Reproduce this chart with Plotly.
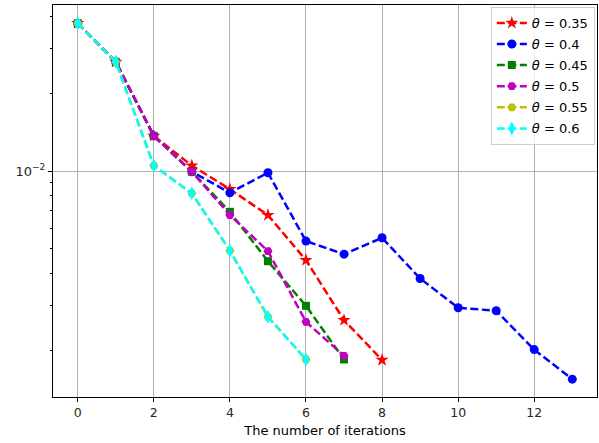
import plotly.graph_objects as go

iters_035 = list(range(9))
vals_035 = [0.0376, 0.0266, 0.0137, 0.0105, 0.0085, 0.00674, 0.00450, 0.00263, 0.00184]
iters_040 = list(range(14))
vals_040 = [0.0376, 0.0266, 0.0137, 0.00994, 0.00823, 0.00985, 0.00534, 0.00475, 0.00550,
            0.00382, 0.00294, 0.00286, 0.00202, 0.00155]
iters_045 = list(range(8))
vals_045 = [0.0376, 0.0266, 0.0137, 0.00994, 0.00694, 0.00446, 0.00299, 0.00185]
iters_050 = list(range(8))
vals_050 = [0.0376, 0.0266, 0.0137, 0.00994, 0.00674, 0.00488, 0.00259, 0.00191]
iters_055 = list(range(7))
vals_055 = [0.0376, 0.0266, 0.0105, 0.00819, 0.00490, 0.00271, 0.00185]
iters_060 = list(range(7))
vals_060 = [0.0376, 0.0266, 0.0105, 0.00819, 0.00490, 0.00271, 0.00185]

labels = ["0.35", "0.4", "0.45", "0.5", "0.55", "0.6"]
colors = ["#ff0000", "#0000ff", "#008000", "#bf00bf", "#bfbf00", "#00ffff"]
symbols = ["star", "circle", "square", "hexagon2", "hexagon2", "diamond-tall"]
sizes = [10, 9, 8, 9, 9, 10]

series = [(iters_035, vals_035), (iters_040, vals_040), (iters_045, vals_045),
          (iters_050, vals_050), (iters_055, vals_055), (iters_060, vals_060)]

fig = go.Figure()
for i, ((xs, ys), lab, c, s, sz) in enumerate(zip(series, labels, colors, symbols, sizes)):
    fig.add_trace(go.Scatter(
        x=xs, y=ys, mode="lines+markers",
        name="<i>θ</i> = " + lab,
        legendgroup="g%d" % i,
        line=dict(color=c, width=2.5, dash="8px,3.5px"),
        marker=dict(color=c, symbol=s, size=sz, line=dict(width=0)),
    ))

fig.update_layout(
    width=599, height=443,
    paper_bgcolor="white", plot_bgcolor="white",
    margin=dict(l=53, r=2, t=5, b=46),
    font=dict(family="DejaVu Sans", size=12, color="#262626"),
    showlegend=True,
    legend=dict(
        x=0.996, y=0.995, xanchor="right", yanchor="top",
        bgcolor="rgba(255,255,255,0.8)", bordercolor="#cccccc", borderwidth=1,
        font=dict(size=13, color="#000000"),
        tracegroupgap=1.2,
        itemwidth=30,
    ),
)
fig.update_xaxes(
    range=[-0.65, 13.65],
    tickvals=[0, 2, 4, 6, 8, 10, 12],
    showgrid=True, gridcolor="#b0b0b0", gridwidth=1,
    showline=True, linecolor="black", linewidth=1, mirror=True,
    ticks="outside", ticklen=4, tickcolor="black",
    zeroline=False,
    title=dict(text="The number of iterations", font=dict(size=13, color="#000000"), standoff=6),
    tickfont=dict(size=12.5),
)
fig.update_yaxes(
    type="log",
    range=[-2.879, -1.354],
    tickvals=[0.01], ticktext=["10<sup>−2</sup>"],
    showgrid=True, gridcolor="#b0b0b0", gridwidth=1,
    showline=True, linecolor="black", linewidth=1, mirror=True,
    ticks="outside", ticklen=4, tickcolor="black",
    zeroline=False,
    tickfont=dict(size=13),
    minor=dict(
        tickmode="array",
        tickvals=[0.002, 0.003, 0.004, 0.005, 0.006, 0.007, 0.008, 0.009, 0.02, 0.03, 0.04],
        ticks="outside", ticklen=2, tickcolor="black", showgrid=False,
    ),
)

fig.write_html("out.html", config={"displayModeBar": False},
               post_script="document.body.style.margin='0';")
